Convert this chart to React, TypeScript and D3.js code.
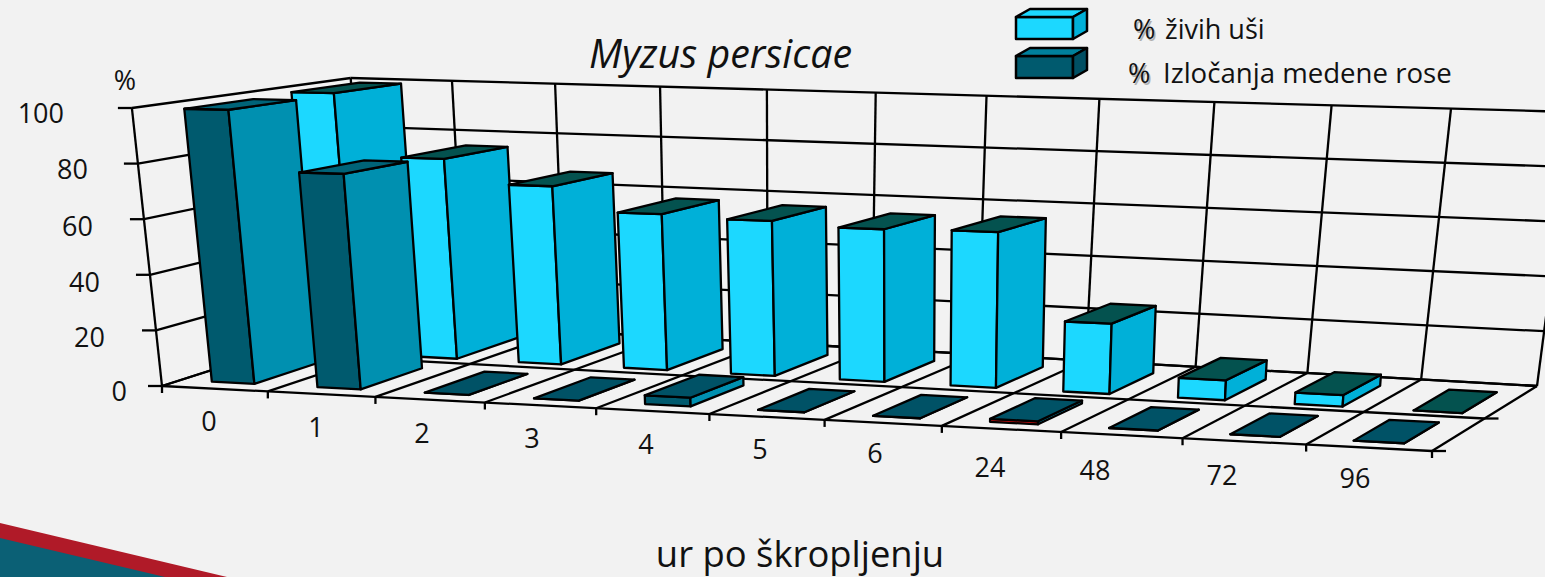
import React from "react";
import * as d3 from "d3";

const categories = ["0", "1", "2", "3", "4", "5", "6", "24", "48", "72", "96"];
const honeydewValues = [99, 77, 0, 0, 3, 0, 0, 1, 0, 0, 0];
const aphidValues = [100, 76, 67, 58, 57, 55.5, 56, 25, 7, 4, 0];
const valueTicks = [0, 20, 40, 60, 80, 100];
const depthTicks = [0, 0.5, 1];

const W = 1545;
const H = 577;
const FONT = "'Open Sans', sans-serif";

// camera calibration: floor corners, wall heights per 100 %, lean of the verticals
const A = [162, 386], B = [1432, 451], C = [1537, 386], D = [368, 320];
const HA = 278, HB = 315, HC = 274, HD = 242;
const VP_BARS = [900, 7200];
const VP_WALL = [785, 6150];
const R = 1.1;

const uScale = d3.scaleLinear().domain([0, categories.length]).range([0, 1]);
const hScale = d3.scaleLinear().domain([0, 100]).range([0, 1]);
const band = d3.scaleBand<string>().domain(categories).range([0, 1]).paddingInner(0.595).paddingOuter(0.2975).align(0.448);
const warp = (u: number) => u / (u + (1 - u) * R);

type P = [number, number];
function project(u: number, v: number, value: number): P {
  const w = warp(u);
  const lerp = d3.interpolateNumber;
  const fx = lerp(A[0], B[0])(w), fy = lerp(A[1], B[1])(w);
  const bx = lerp(D[0], C[0])(w), by = lerp(D[1], C[1])(w);
  const x = lerp(fx, bx)(v), y = lerp(fy, by)(v);
  const hgt = lerp(lerp(HA, HB)(w), lerp(HD, HC)(w))(v) * hScale(value);
  const vp = v === 1 ? VP_WALL : VP_BARS;
  return [x + ((x - vp[0]) / (vp[1] - y)) * hgt, y - hgt];
}
const poly = d3.line<P>().curve(d3.curveLinearClosed);
const seg = (a: P, b: P) => d3.line<P>()([a, b]) as string;

function Bar({ cat, value, v0, v1, shift, front, side, top }: any) {
  const u0 = band(cat)! + shift, u1 = u0 + band.bandwidth();
  const fb0 = project(u0, v0, 0), fb1 = project(u1, v0, 0), bb1 = project(u1, v1, 0);
  const ft0 = project(u0, v0, value), ft1 = project(u1, v0, value), bt1 = project(u1, v1, value), bt0 = project(u0, v1, value);
  const st = { stroke: "#000", strokeWidth: 2.3, strokeLinejoin: "round" as const };
  return (
    <g>
      <path d={poly([fb0, fb1, ft1, ft0])!} fill={front} {...st} />
      <path d={poly([fb1, bb1, bt1, ft1])!} fill={side} {...st} />
      <path d={poly([ft0, ft1, bt1, bt0])!} fill={top} {...st} />
    </g>
  );
}

const valueLabelGeom = [
  { x: 127, y: 392 }, { x: 105, y: 338 }, { x: 100, y: 283 },
  { x: 93, y: 227 }, { x: 88, y: 170 }, { x: 64, y: 114 },
];
const catLabelGeom = [
  [209, 421], [316, 427], [422, 433], [532, 438], [646, 444], [760, 449],
  [875, 453], [990, 467], [1095, 470], [1222, 475], [1355, 478],
];

function ShadowPct({ x, y, size }: any) {
  return (
    <g fontFamily={FONT} fontSize={size}>
      <text x={x + 1.5} y={y + 1.5} fill="#b0b0b0">%</text>
      <text x={x} y={y} fill="#111">%</text>
    </g>
  );
}

export default function App() {
  const grid = { stroke: "#000", strokeWidth: 2.3, fill: "none" };
  const n = categories.length;
  const us = d3.range(n + 1).map((i) => uScale(i));
  return (
    <svg width={W} height={H} viewBox={`0 0 ${W} ${H}`}
      style={{ position: "fixed", left: 0, top: 0, background: "#f2f2f2", display: "block" }}>
      {/* ribbon */}
      <path d={poly([[0, 523], [227, 577], [0, 577]])!} fill="#b01a28" />
      <path d={poly([[0, 538], [165, 577], [0, 577]])!} fill="#0b6075" />

      {/* back and left walls */}
      {valueTicks.map((t) => (
        <g key={t}>
          <path d={seg(project(0, 0, t), project(0, 1, t))} {...grid} />
          <path d={seg(project(0, 1, t), project(1, 1, t))} {...grid} />
          <path d={seg([project(0, 0, t)[0] - 14, project(0, 0, t)[1]], project(0, 0, t))} {...grid} />
        </g>
      ))}
      <path d={seg(project(0, 0, 0), project(0, 0, 100))} {...grid} />
      {us.map((u, i) => <path key={i} d={seg(project(u, 1, 0), project(u, 1, 100))} {...grid} />)}

      {/* floor */}
      {us.map((u, i) => (
        <g key={i}>
          <path d={seg(project(u, 0, 0), project(u, 1, 0))} {...grid} />
          <path d={seg(project(u, 0, 0), [project(u, 0, 0)[0], project(u, 0, 0)[1] + 7])} {...grid} />
        </g>
      ))}
      {depthTicks.map((t) => (
        <g key={t}>
          <path d={seg(project(0, t, 0), project(1, t, 0))} {...grid} />
          {t < 1 && <path d={seg(project(1, t, 0), [project(1, t, 0)[0] + 14, project(1, t, 0)[1]])} {...grid} />}
        </g>
      ))}

      {/* back row, then front row */}
      {categories.map((c, i) => (
        <Bar key={c} cat={c} value={aphidValues[i]} v0={0.56} v1={0.88} shift={0.0085} front="#1cd8ff" side="#00b0d8" top="#04524f" />
      ))}
      {categories.map((c, i) => (
        <Bar key={c} cat={c} value={honeydewValues[i]} v0={0.09} v1={0.41} shift={0.003}
          front={c === "24" ? "#e01010" : "#005a6e"} side="#0090b0" top={i < 2 ? "#006378" : "#005266"} />
      ))}

      {/* axis text */}
      {valueTicks.map((t, i) => (
        <text key={t} x={valueLabelGeom[i].x} y={valueLabelGeom[i].y + 9} textAnchor="end"
          fontFamily={FONT} fontSize={27} fill="#111">{t}</text>
      ))}
      {categories.map((c, i) => (
        <text key={c} x={catLabelGeom[i][0]} y={catLabelGeom[i][1] + 10} textAnchor="middle"
          fontFamily={FONT} fontSize={27} fill="#111">{c}</text>
      ))}
      <text x={125} y={90} textAnchor="middle" fontFamily={FONT} fontSize={27} fill="#111">%</text>
      <text x={720.5} y={68} textAnchor="middle" fontFamily={FONT} fontStyle="italic" fontSize={39.4} fill="#111">Myzus persicae</text>
      <text x={800} y={567} textAnchor="middle" fontFamily={FONT} fontSize={36.4} fill="#111">ur po škropljenju</text>

      {/* legend */}
      <g stroke="#000" strokeWidth={2.5} strokeLinejoin="round">
        <path d={poly([[1016, 17], [1073, 17], [1073, 39], [1016, 39]])!} fill="#1cd8ff" />
        <path d={poly([[1016, 17], [1073, 17], [1087, 9], [1030, 9]])!} fill="#1cd8ff" />
        <path d={poly([[1073, 17], [1087, 9], [1087, 31], [1073, 39]])!} fill="#00b0d8" />
        <path d={poly([[1016, 56], [1073, 56], [1073, 78], [1016, 78]])!} fill="#005a6e" />
        <path d={poly([[1016, 56], [1073, 56], [1087, 48], [1030, 48]])!} fill="#00809c" />
        <path d={poly([[1073, 56], [1087, 48], [1087, 70], [1073, 78]])!} fill="#004f63" />
      </g>
      <ShadowPct x={1133} y={39} size={27} />
      <text x={1165} y={39} fontFamily={FONT} fontSize={27} fill="#111">živih uši</text>
      <ShadowPct x={1128} y={83} size={27} />
      <text x={1163} y={83} fontFamily={FONT} fontSize={27.6} fill="#111">Izločanja medene rose</text>
    </svg>
  );
}
